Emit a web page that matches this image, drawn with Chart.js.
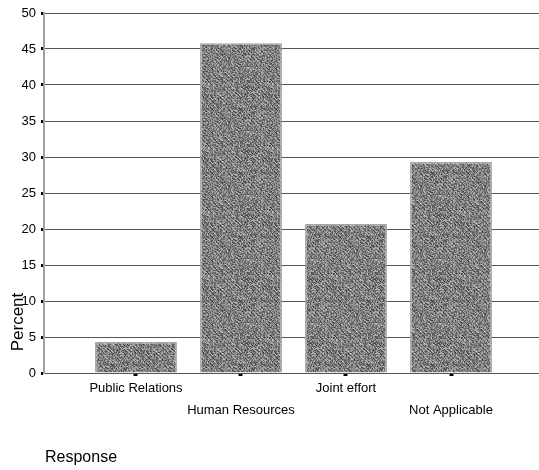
<!DOCTYPE html>
<html>
<head>
<meta charset="utf-8">
<script src="https://cdn.jsdelivr.net/npm/chart.js@4/dist/chart.umd.min.js"></script>
<style>
  html, body { margin: 0; padding: 0; background: #fff; }
  #wrap { width: 539px; height: 470px; }
</style>
</head>
<body>
<div id="wrap"><canvas id="c" width="539" height="470"></canvas></div>
<script>
// Survey responses: who handles the function
const categories = ['Public Relations', 'Human Resources', 'Joint effort', 'Not Applicable'];
const percents = [4.3, 45.8, 20.7, 29.3];
const yTicks = [0, 5, 10, 15, 20, 25, 30, 35, 40, 45, 50];
const yTitle = 'Percent';
const xTitle = 'Response';

// Grainy gray fill for the bars (deterministic hash noise plus a fine diagonal weave)
function grainPattern(ctx) {
  const size = 64;
  const c = document.createElement('canvas');
  c.width = c.height = size;
  const g = c.getContext('2d');
  const img = g.createImageData(size, size);
  for (let y = 0; y < size; y++) {
    for (let x = 0; x < size; x++) {
      let h = (Math.imul(x, 374761393) + Math.imul(y, 668265263)) | 0;
      h = Math.imul(h ^ (h >>> 13), 1274126177);
      h ^= h >>> 16;
      const n = (h & 255) / 255;
      const weave = Math.sin((x - y) * Math.PI / 2) * 0.5 + 0.5;
      const v = Math.round(55 + 145 * (0.72 * n + 0.28 * weave));
      const i = (y * size + x) * 4;
      img.data[i] = img.data[i + 1] = img.data[i + 2] = v;
      img.data[i + 3] = 255;
    }
  }
  g.putImageData(img, 0, 0);
  return ctx.createPattern(c, 'repeat');
}

// Axis titles placed freely on the canvas
const axisTitles = {
  id: 'axisTitles',
  afterDraw(chart) {
    const ctx = chart.ctx;
    ctx.save();
    ctx.fillStyle = '#000';
    ctx.font = '17px "Liberation Sans", Arial, sans-serif';
    ctx.textAlign = 'center';
    ctx.textBaseline = 'middle';
    ctx.translate(18, 322);
    ctx.rotate(-Math.PI / 2);
    ctx.fillText(yTitle, 0, 0);
    ctx.restore();

    ctx.save();
    ctx.fillStyle = '#000';
    ctx.font = '16px "Liberation Sans", Arial, sans-serif';
    ctx.textAlign = 'left';
    ctx.textBaseline = 'middle';
    ctx.fillText(xTitle, 45, 458);
    ctx.restore();
  }
};

const ctx = document.getElementById('c').getContext('2d');

new Chart(ctx, {
  type: 'bar',
  data: {
    datasets: [{
      data: percents.map((v, i) => ({ x: i, y: v })),
      backgroundColor: grainPattern(ctx),
      borderColor: '#a6a6a6',
      borderWidth: 1.5,
      barPercentage: 0.78,
      categoryPercentage: 1
    }]
  },
  options: {
    responsive: false,
    animation: false,
    devicePixelRatio: 1,
    layout: { padding: { top: 13, left: 0, right: 0, bottom: 0 } },
    plugins: {
      legend: { display: false },
      tooltip: { enabled: false }
    },
    scales: {
      x: {
        type: 'linear',
        offset: false,
        min: -0.876,
        max: 3.838,
        afterBuildTicks(scale) {
          scale.ticks = categories.map((_, i) => ({ value: i }));
        },
        afterFit(scale) { scale.height = 97; },
        ticks: {
          autoSkip: false,
          maxRotation: 0,
          padding: 1,
          color: '#000',
          font: { family: '"Liberation Sans", Arial, sans-serif', size: 13, lineHeight: 1.7 },
          callback(value) {
            const i = Math.round(value);
            const name = categories[i];
            return i % 2 === 1 ? ['', name] : name;
          }
        },
        grid: {
          offset: false,
          drawOnChartArea: false,
          drawTicks: true,
          tickLength: 3,
          tickWidth: 4,
          tickColor: '#000'
        },
        border: { display: true, color: '#555', width: 1 }
      },
      y: {
        min: 0,
        max: 50,
        afterBuildTicks(scale) {
          scale.ticks = yTicks.map(v => ({ value: v }));
        },
        afterFit(scale) { scale.width = 44; },
        ticks: {
          padding: 5,
          color: '#000',
          font: { family: '"Liberation Sans", Arial, sans-serif', size: 13 }
        },
        grid: {
          color: '#555',
          lineWidth: 1,
          drawTicks: true,
          tickLength: 3,
          tickWidth: 3,
          tickColor: '#000'
        },
        border: { display: true, color: '#a0a0a0', width: 2 }
      }
    }
  },
  plugins: [axisTitles]
});
</script>
</body>
</html>
